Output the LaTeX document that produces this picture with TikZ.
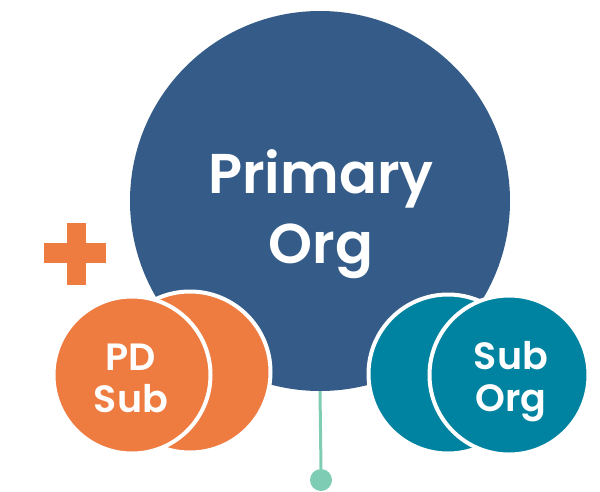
\documentclass[tikz,border=0pt]{standalone}
\usepackage{fontspec}
\setmainfont{Poppins}[BoldFont={Poppins SemiBold}]
\definecolor{primaryblue}{HTML}{355C88}
\definecolor{pdorange}{HTML}{EE7B3F}
\definecolor{subteal}{HTML}{0083A0}
\definecolor{stemgreen}{HTML}{7FCCB5}
\begin{document}
\begin{tikzpicture}[x=1pt,y=-1pt,
    bubble/.style={circle,draw=white,line width=4pt,inner sep=0pt},
    caption/.style={text=white,font=\bfseries,align=center,inner sep=0pt}]
  \useasboundingbox (0,0) rectangle (600,491);
  % primary circle and stem
  \node[circle,fill=primaryblue,minimum size=380pt,inner sep=0pt] (primary) at (320,201) {};
  \node[circle,fill=stemgreen,minimum size=22pt,inner sep=0pt] (dot) at (321,480) {};
  \draw[stemgreen,line width=3pt] (primary.south) -- (dot.north);
  \node[caption,font=\bfseries\fontsize{56}{70}\selectfont] (primarytext) at (321,214) {Primary\\Org};
  % plus sign
  \fill[pdorange] (44,243) rectangle (106,263);
  \fill[pdorange] (67,223) rectangle (86,285);
  % left pair
  \node[bubble,fill=pdorange,minimum size=161pt] (pdback) at (190,372) {};
  \node[bubble,fill=pdorange,minimum size=157pt] (pdfront) at (132,375) {};
  \node[caption,font=\bfseries\fontsize{38}{42}\selectfont] (pdtext) at (131,378) {PD\\Sub};
  % right pair
  \node[bubble,fill=subteal,minimum size=159pt] (subback) at (448,374) {};
  \node[bubble,fill=subteal,minimum size=159pt] (subfront) at (509,375) {};
  \node[caption,font=\bfseries\fontsize{38}{42}\selectfont] (subtext) at (511,382) {Sub\\Org};
\end{tikzpicture}
\end{document}
